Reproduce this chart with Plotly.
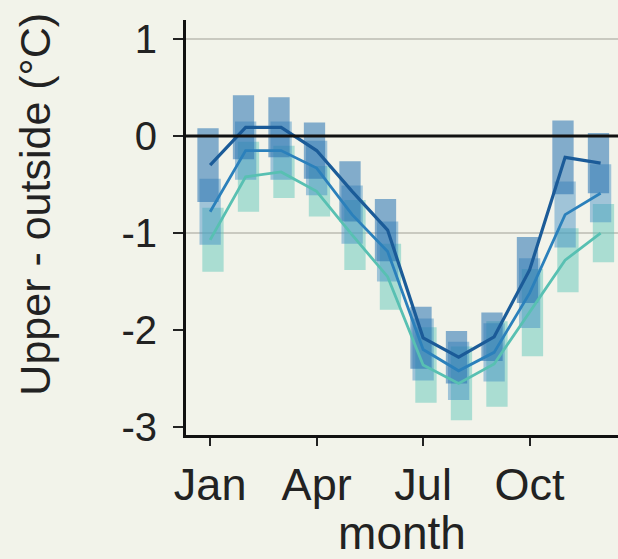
import plotly.graph_objects as go

# Monthly mean difference (upper - outside, °C) for three sensor groups
months = list(range(1, 13))
tick_months = [1, 4, 7, 10]
tick_labels = ["Jan", "Apr", "Jul", "Oct"]
y_ticks = [1, 0, -1, -2, -3]
y_tick_labels = ["1", "0", "-1", "-2", "-3"]

dark_mean = [-0.30, 0.09, 0.09, -0.15, -0.57, -0.97, -2.08, -2.28, -2.07, -1.38, -0.22, -0.28]
mid_mean = [-0.78, -0.15, -0.15, -0.33, -0.81, -1.19, -2.20, -2.42, -2.23, -1.62, -0.81, -0.59]
teal_mean = [-1.07, -0.42, -0.37, -0.57, -1.02, -1.45, -2.36, -2.55, -2.35, -1.82, -1.28, -1.00]

# half-spread of each monthly box
dark_spread = [0.38, 0.33, 0.31, 0.29, 0.31, 0.32, 0.32, 0.27, 0.25, 0.34, 0.38, 0.31]
mid_spread = [0.34, 0.30, 0.30, 0.28, 0.30, 0.31, 0.32, 0.30, 0.30, 0.36, 0.34, 0.30]
teal_spread = [0.33, 0.36, 0.27, 0.26, 0.36, 0.34, 0.39, 0.38, 0.44, 0.45, 0.33, 0.30]

series = [
    # (means, spreads, box colour, line colour, line width, x shift)
    (teal_mean, teal_spread, "rgba(98,200,186,0.50)", "#58c0b2", 2.8, 0.08),
    (mid_mean, mid_spread, "rgba(60,140,195,0.45)", "#2b80bb", 2.8, 0.0),
    (dark_mean, dark_spread, "rgba(38,113,177,0.55)", "#1b5b98", 3.2, -0.06),
]

fig = go.Figure()

for mean, spread, box_col, _, _, shift in series:
    fig.add_trace(go.Bar(
        x=[m + shift for m in months],
        y=[2 * s for s in spread],
        base=[mu - s for mu, s in zip(mean, spread)],
        width=0.6,
        marker=dict(color=box_col, line=dict(width=0)),
        showlegend=False,
        hoverinfo="skip",
    ))

for mean, _, _, line_col, lw, _ in series:
    fig.add_trace(go.Scatter(
        x=months, y=mean, mode="lines",
        line=dict(color=line_col, width=lw),
        showlegend=False,
    ))

# reference lines
for yv, col, w in [(1, "#c9c9c0", 2), (-1, "#c9c9c0", 2), (0, "#111111", 3)]:
    fig.add_shape(type="line", xref="paper", x0=0, x1=1, yref="y", y0=yv, y1=yv,
                  line=dict(color=col, width=w), layer="below" if yv != 0 else "above")

font = "Liberation Sans, Arial, sans-serif"
fig.update_layout(
    width=618, height=559,
    margin=dict(l=186, r=0, t=20, b=124),
    paper_bgcolor="#f2f3ea",
    plot_bgcolor="#f2f3ea",
    barmode="overlay",
    font=dict(family=font, color="#222222"),
    xaxis=dict(
        range=[0.32, 12.49],
        tickvals=tick_months, ticktext=tick_labels,
        ticks="outside", ticklen=8, tickwidth=2, tickcolor="#222",
        showline=True, linecolor="#111", linewidth=3,
        showgrid=False, zeroline=False,
        tickfont=dict(size=45),
        title=dict(text="month", font=dict(size=46), standoff=2),
    ),
    yaxis=dict(
        range=[-3.082, 1.196],
        tickvals=y_ticks, ticktext=y_tick_labels,
        ticks="outside", ticklen=10, tickwidth=2, tickcolor="#222",
        showline=True, linecolor="#111", linewidth=3,
        showgrid=False, zeroline=False,
        tickfont=dict(size=40),
        ticklabelstandoff=8,
    ),
    annotations=[dict(
        text="Upper - outside (°C)", textangle=-90,
        xref="paper", yref="paper", x=-0.35, y=0.557,
        xanchor="center", yanchor="middle", showarrow=False,
        font=dict(size=43, family=font, color="#222222"),
    )],
)

fig.write_html("out.html")
